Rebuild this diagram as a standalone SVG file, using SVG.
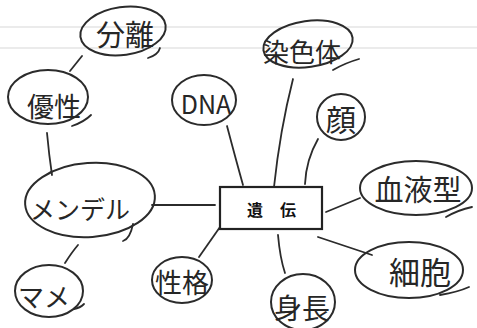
<svg xmlns="http://www.w3.org/2000/svg" width="477" height="328" viewBox="0 0 477 328">
<style>
.bg{fill:#ffffff}
.rule{stroke:#d8d8d8;stroke-width:1.2;fill:none}
.n{fill:none;stroke:#2b2b2b;stroke-width:2}
.c{fill:none;stroke:#2b2b2b;stroke-width:1.8;stroke-linecap:round}
.t{font-family:"Noto Sans CJK JP","Noto Sans",sans-serif;fill:#262626;text-anchor:middle;dominant-baseline:central}
.box{fill:#ffffff;stroke:#222;stroke-width:2.2}
.bt{font-family:"Noto Sans CJK JP",sans-serif;font-weight:bold;font-size:16px;fill:#111;dominant-baseline:central;text-anchor:middle}
</style>
<rect class="bg" x="0" y="0" width="477" height="328"/>
<g id="ruled">
<line class="rule" x1="0" y1="27" x2="477" y2="27"/>
<line class="rule" x1="0" y1="48" x2="477" y2="48"/>
</g>
<g id="connectors">
<path class="c" d="M82 56 L70 71"/>
<path class="c" d="M47 133 Q49 155 52 175"/>
<path class="c" d="M152 205 L215 205"/>
<path class="c" d="M78 245 Q72 252 65 263"/>
<path class="c" d="M199 257 L220 227"/>
<path class="c" d="M227 126 Q236 160 243 185"/>
<path class="c" d="M293 79 Q280 130 274 187"/>
<path class="c" d="M318 139 Q306 160 305 184"/>
<path class="c" d="M326 212 L360 198"/>
<path class="c" d="M318 237 L372 255"/>
<path class="c" d="M278 235 Q280 258 285 273"/>
</g>
<g id="center">
<rect class="box" x="220" y="187" width="102" height="42"/>
<text class="bt" x="255" y="209">遺</text>
<text class="bt" x="288" y="209">伝</text>
</g>
<g id="bunri">
<ellipse class="n" cx="123" cy="31" rx="43" ry="24" transform="rotate(-8 123 31)"/>
<path class="c" d="M148 58 Q158 55 160 48"/>
<text class="t" x="125" y="33" font-size="29">分離</text>
</g>
<g id="yusei">
<ellipse class="n" cx="48" cy="97" rx="40" ry="27"/>
<path class="c" d="M72 126 Q84 122 91 115"/>
<text class="t" x="54" y="105" font-size="27">優性</text>
</g>
<g id="dna">
<ellipse class="n" cx="204" cy="100" rx="32" ry="25"/>
<text class="t" x="206" y="103" font-size="25" font-family="Liberation Sans, sans-serif">DNA</text>
</g>
<g id="senshokutai">
<ellipse class="n" cx="308" cy="44" rx="45" ry="23" transform="rotate(-8 308 44)"/>
<path class="c" d="M333 70 Q345 63 359 59"/>
<text class="t" x="302" y="50" font-size="26">染色体</text>
</g>
<g id="kao">
<ellipse class="n" cx="341" cy="117" rx="24" ry="23"/>
<text class="t" x="341" y="118" font-size="30">顔</text>
</g>
<g id="mendel">
<ellipse class="n" cx="90" cy="200" rx="65" ry="37" transform="rotate(-4 90 200)"/>
<path class="c" d="M123 241 Q130 239 133 224"/>
<text class="t" x="80" y="208" font-size="25">メンデル</text>
</g>
<g id="mame">
<ellipse class="n" cx="49" cy="291" rx="34" ry="26"/>
<path class="c" d="M74 309 Q80 308 84 304"/>
<text class="t" x="44" y="295" font-size="26">マメ</text>
</g>
<g id="seikaku">
<ellipse class="n" cx="182" cy="280" rx="30" ry="23"/>
<text class="t" x="182" y="281" font-size="27">性格</text>
</g>
<g id="ketsuekigata">
<ellipse class="n" cx="416" cy="188" rx="56" ry="27"/>
<path class="c" d="M446 217 Q458 210 472 207"/>
<text class="t" x="418" y="188" font-size="29">血液型</text>
</g>
<g id="saibou">
<ellipse class="n" cx="409" cy="270" rx="54" ry="28"/>
<path class="c" d="M440 295 Q458 292 469 287"/>
<text class="t" x="420" y="270" font-size="31">細胞</text>
</g>
<g id="shincho">
<ellipse class="n" cx="303" cy="302" rx="32" ry="28"/>
<text class="t" x="302" y="307" font-size="28">身長</text>
</g>
</svg>
